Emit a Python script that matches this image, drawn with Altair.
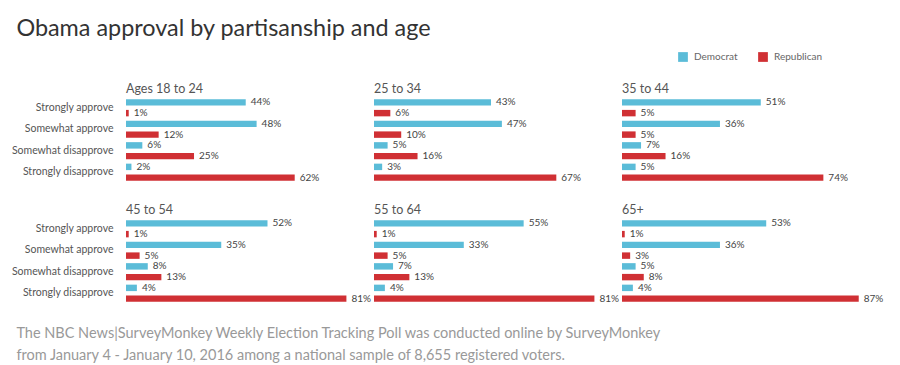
import altair as alt
import pandas as pd

ages = ["Ages 18 to 24", "25 to 34", "35 to 44", "45 to 54", "55 to 64", "65+"]
responses = ["Strongly approve", "Somewhat approve", "Somewhat disapprove", "Strongly disapprove"]
parties = ["Democrat", "Republican"]

dem_18_24 = [44, 48, 6, 2]
rep_18_24 = [1, 12, 25, 62]
dem_25_34 = [43, 47, 5, 3]
rep_25_34 = [6, 10, 16, 67]
dem_35_44 = [51, 36, 7, 5]
rep_35_44 = [5, 5, 16, 74]
dem_45_54 = [52, 35, 8, 4]
rep_45_54 = [1, 5, 13, 81]
dem_55_64 = [55, 33, 7, 4]
rep_55_64 = [1, 5, 13, 81]
dem_65 = [53, 36, 5, 4]
rep_65 = [1, 3, 8, 87]

dem_all = [dem_18_24, dem_25_34, dem_35_44, dem_45_54, dem_55_64, dem_65]
rep_all = [rep_18_24, rep_25_34, rep_35_44, rep_45_54, rep_55_64, rep_65]

title_text = "Obama approval by partisanship and age"
footnote = [
    "The NBC News|SurveyMonkey Weekly Election Tracking Poll was conducted online by SurveyMonkey",
    "from January 4 - January 10, 2016 among a national sample of 8,655 registered voters.",
]

rows = []
for age, dv, rv in zip(ages, dem_all, rep_all):
    for resp, d, r in zip(responses, dv, rv):
        rows.append({"age": age, "response": resp, "party": "Democrat", "value": d})
        rows.append({"age": age, "response": resp, "party": "Republican", "value": r})
df = pd.DataFrame(rows)
df["label"] = df["value"].astype(str) + "%"

FONT = "Lato"

base = alt.Chart(df).encode(
    y=alt.Y(
        "response:N",
        sort=responses,
        title=None,
        scale=alt.Scale(paddingInner=0, paddingOuter=0),
        axis=alt.Axis(
            domain=False, ticks=False, grid=False, labelPadding=13,
            labelFontSize=10.5, labelColor="#555555", labelFont=FONT,
            minExtent=105, maxExtent=105, labelLimit=200,
        ),
    ),
    yOffset=alt.YOffset("party:N", sort=parties,
                        scale=alt.Scale(paddingInner=0.4, paddingOuter=0.2)),
    x=alt.X("value:Q", scale=alt.Scale(domain=[0, 88.2]), axis=None),
)

bars = base.mark_bar().encode(
    color=alt.Color(
        "party:N",
        sort=parties,
        scale=alt.Scale(domain=parties, range=["#5bbcd8", "#d03034"]),
        legend=alt.Legend(
            title=None, orient="none", direction="horizontal",
            legendX=552, legendY=-45, symbolType="square", symbolSize=95,
            symbolStrokeWidth=0, labelFontSize=10, labelColor="#666666",
            labelFont=FONT, columnPadding=20, labelOffset=6,
        ),
    )
)

labels = base.mark_text(
    align="left", baseline="middle", dx=5, fontSize=10, color="#444444", font=FONT
).encode(text="label:N")

panel = alt.layer(bars, labels).properties(width=240, height=86)

facet = panel.facet(
    facet=alt.Facet(
        "age:N", sort=ages, title=None,
        header=alt.Header(
            labelOrient="top", labelAnchor="start", labelFontSize=12.5,
            labelColor="#555555", labelFont=FONT, labelPadding=2,
        ),
    ),
    columns=3,
    spacing={"row": 35, "column": 8},
    bounds="flush",
).properties(
    title=alt.TitleParams(
        text=footnote, orient="bottom", anchor="start", fontSize=14.5, dx=5,
        font=FONT, fontWeight="normal", color="#999999", lineHeight=22, offset=23,
    )
)

chart = alt.vconcat(facet).properties(
    title=alt.TitleParams(
        text=title_text, anchor="start", fontSize=23.4, font=FONT, dx=5,
        fontWeight="normal", color="#333333", offset=11,
    ),
    padding={"left": 3, "top": 8, "right": 0, "bottom": 0},
).configure_view(stroke=None)

chart.save("out.html", embed_options={"renderer": "svg", "actions": False})
